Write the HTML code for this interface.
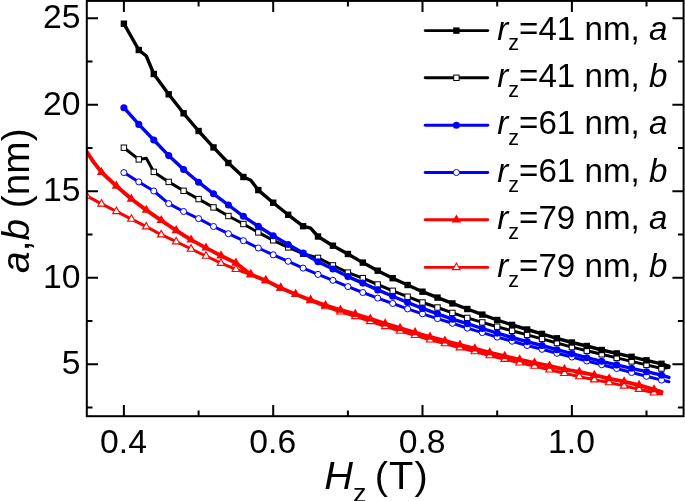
<!DOCTYPE html>
<html><head><meta charset="utf-8"><title>a,b vs Hz</title>
<style>html,body{margin:0;padding:0;background:#fff;width:685px;height:501px;overflow:hidden}</style></head>
<body>
<svg width="685" height="501" viewBox="0 0 685 501" style="display:block;position:absolute;left:0;top:0">
<rect width="685" height="501" fill="#fff"/>
<defs><clipPath id="c"><rect x="87" y="0" width="598" height="416.4"/></clipPath></defs>
<g clip-path="url(#c)">
<polyline points="123.9,147.7 138.8,159.4 146.3,158.2 153.8,171.9 168.7,181.9 183.6,190.8 198.6,199.1 213.5,207.4 228.4,216.0 243.4,224.0 258.3,232.4 273.2,240.3 288.2,247.4 303.1,253.7 318.0,257.9 332.9,265.4 347.9,272.6 362.8,278.1 377.7,284.5 392.7,290.8 407.6,296.7 422.5,302.5 437.5,307.5 452.4,312.9 467.3,317.9 482.3,322.4 497.2,326.7 512.1,330.8 527.1,334.9 542.0,338.9 556.9,343.0 571.9,347.1 586.8,350.7 601.7,354.3 616.7,357.9 631.6,361.4 646.5,364.9 661.5,368.5 668.9,367.5" fill="none" stroke="#000" stroke-width="3.0" stroke-linejoin="round" stroke-linecap="round"/>
<rect x="121.2" y="145.0" width="5.4" height="5.4" fill="#fff" stroke="#000" stroke-width="1"/>
<rect x="136.1" y="156.7" width="5.4" height="5.4" fill="#fff" stroke="#000" stroke-width="1"/>
<rect x="151.1" y="169.2" width="5.4" height="5.4" fill="#fff" stroke="#000" stroke-width="1"/>
<rect x="166.0" y="179.2" width="5.4" height="5.4" fill="#fff" stroke="#000" stroke-width="1"/>
<rect x="180.9" y="188.1" width="5.4" height="5.4" fill="#fff" stroke="#000" stroke-width="1"/>
<rect x="195.9" y="196.4" width="5.4" height="5.4" fill="#fff" stroke="#000" stroke-width="1"/>
<rect x="210.8" y="204.7" width="5.4" height="5.4" fill="#fff" stroke="#000" stroke-width="1"/>
<rect x="225.7" y="213.3" width="5.4" height="5.4" fill="#fff" stroke="#000" stroke-width="1"/>
<rect x="240.7" y="221.3" width="5.4" height="5.4" fill="#fff" stroke="#000" stroke-width="1"/>
<rect x="255.6" y="229.7" width="5.4" height="5.4" fill="#fff" stroke="#000" stroke-width="1"/>
<rect x="270.5" y="237.6" width="5.4" height="5.4" fill="#fff" stroke="#000" stroke-width="1"/>
<rect x="285.5" y="244.7" width="5.4" height="5.4" fill="#fff" stroke="#000" stroke-width="1"/>
<rect x="300.4" y="251.0" width="5.4" height="5.4" fill="#fff" stroke="#000" stroke-width="1"/>
<rect x="315.3" y="255.2" width="5.4" height="5.4" fill="#fff" stroke="#000" stroke-width="1"/>
<rect x="330.2" y="262.7" width="5.4" height="5.4" fill="#fff" stroke="#000" stroke-width="1"/>
<rect x="345.2" y="269.9" width="5.4" height="5.4" fill="#fff" stroke="#000" stroke-width="1"/>
<rect x="360.1" y="275.4" width="5.4" height="5.4" fill="#fff" stroke="#000" stroke-width="1"/>
<rect x="375.0" y="281.8" width="5.4" height="5.4" fill="#fff" stroke="#000" stroke-width="1"/>
<rect x="390.0" y="288.1" width="5.4" height="5.4" fill="#fff" stroke="#000" stroke-width="1"/>
<rect x="404.9" y="294.0" width="5.4" height="5.4" fill="#fff" stroke="#000" stroke-width="1"/>
<rect x="419.8" y="299.8" width="5.4" height="5.4" fill="#fff" stroke="#000" stroke-width="1"/>
<rect x="434.8" y="304.8" width="5.4" height="5.4" fill="#fff" stroke="#000" stroke-width="1"/>
<rect x="449.7" y="310.2" width="5.4" height="5.4" fill="#fff" stroke="#000" stroke-width="1"/>
<rect x="464.6" y="315.2" width="5.4" height="5.4" fill="#fff" stroke="#000" stroke-width="1"/>
<rect x="479.6" y="319.7" width="5.4" height="5.4" fill="#fff" stroke="#000" stroke-width="1"/>
<rect x="494.5" y="324.0" width="5.4" height="5.4" fill="#fff" stroke="#000" stroke-width="1"/>
<rect x="509.4" y="328.1" width="5.4" height="5.4" fill="#fff" stroke="#000" stroke-width="1"/>
<rect x="524.4" y="332.2" width="5.4" height="5.4" fill="#fff" stroke="#000" stroke-width="1"/>
<rect x="539.3" y="336.2" width="5.4" height="5.4" fill="#fff" stroke="#000" stroke-width="1"/>
<rect x="554.2" y="340.3" width="5.4" height="5.4" fill="#fff" stroke="#000" stroke-width="1"/>
<rect x="569.2" y="344.4" width="5.4" height="5.4" fill="#fff" stroke="#000" stroke-width="1"/>
<rect x="584.1" y="348.0" width="5.4" height="5.4" fill="#fff" stroke="#000" stroke-width="1"/>
<rect x="599.0" y="351.6" width="5.4" height="5.4" fill="#fff" stroke="#000" stroke-width="1"/>
<rect x="614.0" y="355.2" width="5.4" height="5.4" fill="#fff" stroke="#000" stroke-width="1"/>
<rect x="628.9" y="358.7" width="5.4" height="5.4" fill="#fff" stroke="#000" stroke-width="1"/>
<rect x="643.8" y="362.2" width="5.4" height="5.4" fill="#fff" stroke="#000" stroke-width="1"/>
<rect x="658.8" y="365.8" width="5.4" height="5.4" fill="#fff" stroke="#000" stroke-width="1"/>
<polyline points="123.9,23.7 138.8,50.0 146.3,56.0 153.8,74.0 168.7,94.3 183.6,113.3 198.6,131.0 213.5,147.4 228.4,163.0 243.4,177.0 250.8,180.3 258.3,190.1 273.2,202.7 288.2,214.8 303.1,226.2 310.6,228.2 318.0,236.5 332.9,245.7 347.9,254.0 362.8,262.6 377.7,270.7 392.7,278.2 407.6,285.0 422.5,291.7 437.5,297.6 452.4,303.4 467.3,309.0 482.3,314.6 497.2,320.0 512.1,324.9 527.1,329.5 542.0,333.9 556.9,338.3 571.9,342.5 586.8,346.0 601.7,350.0 616.7,353.4 631.6,356.8 646.5,360.3 661.5,363.8 668.9,366.2" fill="none" stroke="#000" stroke-width="3.4" stroke-linejoin="round" stroke-linecap="round"/>
<rect x="120.7" y="20.5" width="6.4" height="6.4" fill="#000"/>
<rect x="135.6" y="46.8" width="6.4" height="6.4" fill="#000"/>
<rect x="150.6" y="70.8" width="6.4" height="6.4" fill="#000"/>
<rect x="165.5" y="91.1" width="6.4" height="6.4" fill="#000"/>
<rect x="180.4" y="110.1" width="6.4" height="6.4" fill="#000"/>
<rect x="195.4" y="127.8" width="6.4" height="6.4" fill="#000"/>
<rect x="210.3" y="144.2" width="6.4" height="6.4" fill="#000"/>
<rect x="225.2" y="159.8" width="6.4" height="6.4" fill="#000"/>
<rect x="240.2" y="173.8" width="6.4" height="6.4" fill="#000"/>
<rect x="255.1" y="186.9" width="6.4" height="6.4" fill="#000"/>
<rect x="270.0" y="199.5" width="6.4" height="6.4" fill="#000"/>
<rect x="285.0" y="211.6" width="6.4" height="6.4" fill="#000"/>
<rect x="299.9" y="223.0" width="6.4" height="6.4" fill="#000"/>
<rect x="314.8" y="233.3" width="6.4" height="6.4" fill="#000"/>
<rect x="329.7" y="242.5" width="6.4" height="6.4" fill="#000"/>
<rect x="344.7" y="250.8" width="6.4" height="6.4" fill="#000"/>
<rect x="359.6" y="259.4" width="6.4" height="6.4" fill="#000"/>
<rect x="374.5" y="267.5" width="6.4" height="6.4" fill="#000"/>
<rect x="389.5" y="275.0" width="6.4" height="6.4" fill="#000"/>
<rect x="404.4" y="281.8" width="6.4" height="6.4" fill="#000"/>
<rect x="419.3" y="288.5" width="6.4" height="6.4" fill="#000"/>
<rect x="434.3" y="294.4" width="6.4" height="6.4" fill="#000"/>
<rect x="449.2" y="300.2" width="6.4" height="6.4" fill="#000"/>
<rect x="464.1" y="305.8" width="6.4" height="6.4" fill="#000"/>
<rect x="479.1" y="311.4" width="6.4" height="6.4" fill="#000"/>
<rect x="494.0" y="316.8" width="6.4" height="6.4" fill="#000"/>
<rect x="508.9" y="321.7" width="6.4" height="6.4" fill="#000"/>
<rect x="523.9" y="326.3" width="6.4" height="6.4" fill="#000"/>
<rect x="538.8" y="330.7" width="6.4" height="6.4" fill="#000"/>
<rect x="553.7" y="335.1" width="6.4" height="6.4" fill="#000"/>
<rect x="568.7" y="339.3" width="6.4" height="6.4" fill="#000"/>
<rect x="583.6" y="342.8" width="6.4" height="6.4" fill="#000"/>
<rect x="598.5" y="346.8" width="6.4" height="6.4" fill="#000"/>
<rect x="613.5" y="350.2" width="6.4" height="6.4" fill="#000"/>
<rect x="628.4" y="353.6" width="6.4" height="6.4" fill="#000"/>
<rect x="643.3" y="357.1" width="6.4" height="6.4" fill="#000"/>
<rect x="658.3" y="360.6" width="6.4" height="6.4" fill="#000"/>
<polyline points="123.9,172.6 138.8,181.9 153.8,191.0 168.7,203.6 183.6,211.5 198.6,218.6 213.5,226.5 228.4,233.7 243.4,240.7 258.3,248.0 273.2,254.8 288.2,261.3 303.1,268.1 318.0,274.4 332.9,280.3 347.9,286.6 362.8,292.5 377.7,298.1 392.7,303.5 407.6,308.9 422.5,313.8 437.5,318.6 452.4,323.3 467.3,328.1 482.3,332.6 497.2,337.1 512.1,341.2 527.1,345.5 542.0,349.3 556.9,353.3 571.9,357.0 586.8,361.0 601.7,364.7 616.7,368.5 631.6,372.5 646.5,376.3 661.5,380.1 668.9,381.7" fill="none" stroke="#0000ff" stroke-width="3.0" stroke-linejoin="round" stroke-linecap="round"/>
<circle cx="123.9" cy="172.6" r="3.05" fill="#fff" stroke="#0000ff" stroke-width="1"/>
<circle cx="138.8" cy="181.9" r="3.05" fill="#fff" stroke="#0000ff" stroke-width="1"/>
<circle cx="153.8" cy="191.0" r="3.05" fill="#fff" stroke="#0000ff" stroke-width="1"/>
<circle cx="168.7" cy="203.6" r="3.05" fill="#fff" stroke="#0000ff" stroke-width="1"/>
<circle cx="183.6" cy="211.5" r="3.05" fill="#fff" stroke="#0000ff" stroke-width="1"/>
<circle cx="198.6" cy="218.6" r="3.05" fill="#fff" stroke="#0000ff" stroke-width="1"/>
<circle cx="213.5" cy="226.5" r="3.05" fill="#fff" stroke="#0000ff" stroke-width="1"/>
<circle cx="228.4" cy="233.7" r="3.05" fill="#fff" stroke="#0000ff" stroke-width="1"/>
<circle cx="243.4" cy="240.7" r="3.05" fill="#fff" stroke="#0000ff" stroke-width="1"/>
<circle cx="258.3" cy="248.0" r="3.05" fill="#fff" stroke="#0000ff" stroke-width="1"/>
<circle cx="273.2" cy="254.8" r="3.05" fill="#fff" stroke="#0000ff" stroke-width="1"/>
<circle cx="288.2" cy="261.3" r="3.05" fill="#fff" stroke="#0000ff" stroke-width="1"/>
<circle cx="303.1" cy="268.1" r="3.05" fill="#fff" stroke="#0000ff" stroke-width="1"/>
<circle cx="318.0" cy="274.4" r="3.05" fill="#fff" stroke="#0000ff" stroke-width="1"/>
<circle cx="332.9" cy="280.3" r="3.05" fill="#fff" stroke="#0000ff" stroke-width="1"/>
<circle cx="347.9" cy="286.6" r="3.05" fill="#fff" stroke="#0000ff" stroke-width="1"/>
<circle cx="362.8" cy="292.5" r="3.05" fill="#fff" stroke="#0000ff" stroke-width="1"/>
<circle cx="377.7" cy="298.1" r="3.05" fill="#fff" stroke="#0000ff" stroke-width="1"/>
<circle cx="392.7" cy="303.5" r="3.05" fill="#fff" stroke="#0000ff" stroke-width="1"/>
<circle cx="407.6" cy="308.9" r="3.05" fill="#fff" stroke="#0000ff" stroke-width="1"/>
<circle cx="422.5" cy="313.8" r="3.05" fill="#fff" stroke="#0000ff" stroke-width="1"/>
<circle cx="437.5" cy="318.6" r="3.05" fill="#fff" stroke="#0000ff" stroke-width="1"/>
<circle cx="452.4" cy="323.3" r="3.05" fill="#fff" stroke="#0000ff" stroke-width="1"/>
<circle cx="467.3" cy="328.1" r="3.05" fill="#fff" stroke="#0000ff" stroke-width="1"/>
<circle cx="482.3" cy="332.6" r="3.05" fill="#fff" stroke="#0000ff" stroke-width="1"/>
<circle cx="497.2" cy="337.1" r="3.05" fill="#fff" stroke="#0000ff" stroke-width="1"/>
<circle cx="512.1" cy="341.2" r="3.05" fill="#fff" stroke="#0000ff" stroke-width="1"/>
<circle cx="527.1" cy="345.5" r="3.05" fill="#fff" stroke="#0000ff" stroke-width="1"/>
<circle cx="542.0" cy="349.3" r="3.05" fill="#fff" stroke="#0000ff" stroke-width="1"/>
<circle cx="556.9" cy="353.3" r="3.05" fill="#fff" stroke="#0000ff" stroke-width="1"/>
<circle cx="571.9" cy="357.0" r="3.05" fill="#fff" stroke="#0000ff" stroke-width="1"/>
<circle cx="586.8" cy="361.0" r="3.05" fill="#fff" stroke="#0000ff" stroke-width="1"/>
<circle cx="601.7" cy="364.7" r="3.05" fill="#fff" stroke="#0000ff" stroke-width="1"/>
<circle cx="616.7" cy="368.5" r="3.05" fill="#fff" stroke="#0000ff" stroke-width="1"/>
<circle cx="631.6" cy="372.5" r="3.05" fill="#fff" stroke="#0000ff" stroke-width="1"/>
<circle cx="646.5" cy="376.3" r="3.05" fill="#fff" stroke="#0000ff" stroke-width="1"/>
<circle cx="661.5" cy="380.1" r="3.05" fill="#fff" stroke="#0000ff" stroke-width="1"/>
<polyline points="123.9,107.7 138.8,124.4 153.8,140.0 168.7,155.6 183.6,169.5 198.6,182.2 213.5,193.8 228.4,205.0 243.4,216.3 258.3,226.3 273.2,235.7 288.2,244.5 303.1,253.0 318.0,261.8 332.9,269.0 347.9,276.6 362.8,283.1 377.7,289.9 392.7,296.3 407.6,302.5 422.5,308.4 437.5,313.8 452.4,319.2 467.3,323.6 482.3,328.5 497.2,333.1 512.1,337.5 527.1,341.6 542.0,345.5 556.9,349.7 571.9,353.6 586.8,357.7 601.7,361.3 616.7,364.9 631.6,368.3 646.5,371.7 661.5,375.1 668.9,377.4" fill="none" stroke="#0000ff" stroke-width="3.4" stroke-linejoin="round" stroke-linecap="round"/>
<circle cx="123.9" cy="107.7" r="3.55" fill="#0000ff"/>
<circle cx="138.8" cy="124.4" r="3.55" fill="#0000ff"/>
<circle cx="153.8" cy="140.0" r="3.55" fill="#0000ff"/>
<circle cx="168.7" cy="155.6" r="3.55" fill="#0000ff"/>
<circle cx="183.6" cy="169.5" r="3.55" fill="#0000ff"/>
<circle cx="198.6" cy="182.2" r="3.55" fill="#0000ff"/>
<circle cx="213.5" cy="193.8" r="3.55" fill="#0000ff"/>
<circle cx="228.4" cy="205.0" r="3.55" fill="#0000ff"/>
<circle cx="243.4" cy="216.3" r="3.55" fill="#0000ff"/>
<circle cx="258.3" cy="226.3" r="3.55" fill="#0000ff"/>
<circle cx="273.2" cy="235.7" r="3.55" fill="#0000ff"/>
<circle cx="288.2" cy="244.5" r="3.55" fill="#0000ff"/>
<circle cx="303.1" cy="253.0" r="3.55" fill="#0000ff"/>
<circle cx="318.0" cy="261.8" r="3.55" fill="#0000ff"/>
<circle cx="332.9" cy="269.0" r="3.55" fill="#0000ff"/>
<circle cx="347.9" cy="276.6" r="3.55" fill="#0000ff"/>
<circle cx="362.8" cy="283.1" r="3.55" fill="#0000ff"/>
<circle cx="377.7" cy="289.9" r="3.55" fill="#0000ff"/>
<circle cx="392.7" cy="296.3" r="3.55" fill="#0000ff"/>
<circle cx="407.6" cy="302.5" r="3.55" fill="#0000ff"/>
<circle cx="422.5" cy="308.4" r="3.55" fill="#0000ff"/>
<circle cx="437.5" cy="313.8" r="3.55" fill="#0000ff"/>
<circle cx="452.4" cy="319.2" r="3.55" fill="#0000ff"/>
<circle cx="467.3" cy="323.6" r="3.55" fill="#0000ff"/>
<circle cx="482.3" cy="328.5" r="3.55" fill="#0000ff"/>
<circle cx="497.2" cy="333.1" r="3.55" fill="#0000ff"/>
<circle cx="512.1" cy="337.5" r="3.55" fill="#0000ff"/>
<circle cx="527.1" cy="341.6" r="3.55" fill="#0000ff"/>
<circle cx="542.0" cy="345.5" r="3.55" fill="#0000ff"/>
<circle cx="556.9" cy="349.7" r="3.55" fill="#0000ff"/>
<circle cx="571.9" cy="353.6" r="3.55" fill="#0000ff"/>
<circle cx="586.8" cy="357.7" r="3.55" fill="#0000ff"/>
<circle cx="601.7" cy="361.3" r="3.55" fill="#0000ff"/>
<circle cx="616.7" cy="364.9" r="3.55" fill="#0000ff"/>
<circle cx="631.6" cy="368.3" r="3.55" fill="#0000ff"/>
<circle cx="646.5" cy="371.7" r="3.55" fill="#0000ff"/>
<circle cx="661.5" cy="375.1" r="3.55" fill="#0000ff"/>
<polyline points="86.6,195.8 101.5,203.9 116.4,211.4 131.4,219.1 146.3,226.7 161.2,234.7 176.2,241.7 191.1,249.0 206.0,256.0 221.0,263.2 235.9,269.3 250.8,274.5 265.8,280.5 280.7,288.0 295.6,294.3 310.6,300.5 325.5,306.6 340.4,311.8 355.3,316.4 370.3,321.4 385.2,326.4 400.1,331.0 415.1,335.3 430.0,339.8 444.9,343.6 459.9,347.7 474.8,351.5 489.7,355.6 504.7,359.2 519.6,362.8 534.5,366.1 549.5,369.8 564.4,373.3 579.3,376.6 594.3,379.7 609.2,382.6 624.1,385.9 639.1,389.2 654.0,392.8 661.5,394.0" fill="none" stroke="#ff0000" stroke-width="3.0" stroke-linejoin="round" stroke-linecap="round"/>
<polygon points="86.6,191.5 90.3,198.0 82.8,198.0" fill="#fff" stroke="#ff0000" stroke-width="1.1" stroke-linejoin="miter"/>
<polygon points="101.5,199.6 105.3,206.1 97.8,206.1" fill="#fff" stroke="#ff0000" stroke-width="1.1" stroke-linejoin="miter"/>
<polygon points="116.4,207.1 120.2,213.6 112.7,213.6" fill="#fff" stroke="#ff0000" stroke-width="1.1" stroke-linejoin="miter"/>
<polygon points="131.4,214.8 135.1,221.3 127.6,221.3" fill="#fff" stroke="#ff0000" stroke-width="1.1" stroke-linejoin="miter"/>
<polygon points="146.3,222.4 150.0,228.9 142.5,228.9" fill="#fff" stroke="#ff0000" stroke-width="1.1" stroke-linejoin="miter"/>
<polygon points="161.2,230.4 165.0,236.9 157.5,236.9" fill="#fff" stroke="#ff0000" stroke-width="1.1" stroke-linejoin="miter"/>
<polygon points="176.2,237.4 179.9,243.9 172.4,243.9" fill="#fff" stroke="#ff0000" stroke-width="1.1" stroke-linejoin="miter"/>
<polygon points="191.1,244.7 194.8,251.2 187.3,251.2" fill="#fff" stroke="#ff0000" stroke-width="1.1" stroke-linejoin="miter"/>
<polygon points="206.0,251.7 209.8,258.2 202.3,258.2" fill="#fff" stroke="#ff0000" stroke-width="1.1" stroke-linejoin="miter"/>
<polygon points="221.0,258.9 224.7,265.4 217.2,265.4" fill="#fff" stroke="#ff0000" stroke-width="1.1" stroke-linejoin="miter"/>
<polygon points="235.9,265.0 239.6,271.5 232.1,271.5" fill="#fff" stroke="#ff0000" stroke-width="1.1" stroke-linejoin="miter"/>
<polygon points="250.8,270.2 254.6,276.7 247.1,276.7" fill="#fff" stroke="#ff0000" stroke-width="1.1" stroke-linejoin="miter"/>
<polygon points="265.8,276.2 269.5,282.7 262.0,282.7" fill="#fff" stroke="#ff0000" stroke-width="1.1" stroke-linejoin="miter"/>
<polygon points="280.7,283.7 284.4,290.2 276.9,290.2" fill="#fff" stroke="#ff0000" stroke-width="1.1" stroke-linejoin="miter"/>
<polygon points="295.6,290.0 299.4,296.5 291.9,296.5" fill="#fff" stroke="#ff0000" stroke-width="1.1" stroke-linejoin="miter"/>
<polygon points="310.6,296.2 314.3,302.7 306.8,302.7" fill="#fff" stroke="#ff0000" stroke-width="1.1" stroke-linejoin="miter"/>
<polygon points="325.5,302.3 329.2,308.8 321.7,308.8" fill="#fff" stroke="#ff0000" stroke-width="1.1" stroke-linejoin="miter"/>
<polygon points="340.4,307.5 344.2,314.0 336.7,314.0" fill="#fff" stroke="#ff0000" stroke-width="1.1" stroke-linejoin="miter"/>
<polygon points="355.3,312.1 359.1,318.6 351.6,318.6" fill="#fff" stroke="#ff0000" stroke-width="1.1" stroke-linejoin="miter"/>
<polygon points="370.3,317.1 374.0,323.6 366.5,323.6" fill="#fff" stroke="#ff0000" stroke-width="1.1" stroke-linejoin="miter"/>
<polygon points="385.2,322.1 389.0,328.6 381.5,328.6" fill="#fff" stroke="#ff0000" stroke-width="1.1" stroke-linejoin="miter"/>
<polygon points="400.1,326.7 403.9,333.2 396.4,333.2" fill="#fff" stroke="#ff0000" stroke-width="1.1" stroke-linejoin="miter"/>
<polygon points="415.1,331.0 418.8,337.5 411.3,337.5" fill="#fff" stroke="#ff0000" stroke-width="1.1" stroke-linejoin="miter"/>
<polygon points="430.0,335.5 433.8,342.0 426.3,342.0" fill="#fff" stroke="#ff0000" stroke-width="1.1" stroke-linejoin="miter"/>
<polygon points="444.9,339.3 448.7,345.8 441.2,345.8" fill="#fff" stroke="#ff0000" stroke-width="1.1" stroke-linejoin="miter"/>
<polygon points="459.9,343.4 463.6,349.9 456.1,349.9" fill="#fff" stroke="#ff0000" stroke-width="1.1" stroke-linejoin="miter"/>
<polygon points="474.8,347.2 478.6,353.7 471.1,353.7" fill="#fff" stroke="#ff0000" stroke-width="1.1" stroke-linejoin="miter"/>
<polygon points="489.7,351.3 493.5,357.8 486.0,357.8" fill="#fff" stroke="#ff0000" stroke-width="1.1" stroke-linejoin="miter"/>
<polygon points="504.7,354.9 508.4,361.4 500.9,361.4" fill="#fff" stroke="#ff0000" stroke-width="1.1" stroke-linejoin="miter"/>
<polygon points="519.6,358.5 523.3,365.0 515.8,365.0" fill="#fff" stroke="#ff0000" stroke-width="1.1" stroke-linejoin="miter"/>
<polygon points="534.5,361.8 538.3,368.3 530.8,368.3" fill="#fff" stroke="#ff0000" stroke-width="1.1" stroke-linejoin="miter"/>
<polygon points="549.5,365.5 553.2,372.0 545.7,372.0" fill="#fff" stroke="#ff0000" stroke-width="1.1" stroke-linejoin="miter"/>
<polygon points="564.4,369.0 568.1,375.5 560.6,375.5" fill="#fff" stroke="#ff0000" stroke-width="1.1" stroke-linejoin="miter"/>
<polygon points="579.3,372.3 583.1,378.8 575.6,378.8" fill="#fff" stroke="#ff0000" stroke-width="1.1" stroke-linejoin="miter"/>
<polygon points="594.3,375.4 598.0,381.9 590.5,381.9" fill="#fff" stroke="#ff0000" stroke-width="1.1" stroke-linejoin="miter"/>
<polygon points="609.2,378.3 612.9,384.8 605.4,384.8" fill="#fff" stroke="#ff0000" stroke-width="1.1" stroke-linejoin="miter"/>
<polygon points="624.1,381.6 627.9,388.1 620.4,388.1" fill="#fff" stroke="#ff0000" stroke-width="1.1" stroke-linejoin="miter"/>
<polygon points="639.1,384.9 642.8,391.4 635.3,391.4" fill="#fff" stroke="#ff0000" stroke-width="1.1" stroke-linejoin="miter"/>
<polygon points="654.0,388.5 657.7,395.0 650.2,395.0" fill="#fff" stroke="#ff0000" stroke-width="1.1" stroke-linejoin="miter"/>
<polyline points="86.6,151.6 94.0,162.6 101.5,172.3 116.4,186.0 131.4,199.0 146.3,210.1 161.2,220.3 176.2,230.5 191.1,239.9 206.0,247.9 221.0,255.7 235.9,263.0 250.8,274.5 265.8,280.5 280.7,288.0 295.6,294.3 310.6,300.0 325.5,305.4 340.4,310.0 355.3,314.2 370.3,318.9 385.2,323.7 400.1,328.2 415.1,332.5 430.0,337.0 444.9,340.8 459.9,344.9 474.8,348.7 489.7,352.6 504.7,356.2 519.6,359.6 534.5,362.8 549.5,366.0 564.4,369.3 579.3,371.8 594.3,375.2 609.2,378.6 624.1,381.6 639.1,385.2 654.0,389.6 661.5,391.8" fill="none" stroke="#ff0000" stroke-width="3.9" stroke-linejoin="round" stroke-linecap="round"/>
<polygon points="101.5,166.9 106.2,175.0 96.8,175.0" fill="#ff0000"/>
<polygon points="116.4,180.6 121.1,188.7 111.7,188.7" fill="#ff0000"/>
<polygon points="131.4,193.6 136.1,201.7 126.7,201.7" fill="#ff0000"/>
<polygon points="146.3,204.7 151.0,212.8 141.6,212.8" fill="#ff0000"/>
<polygon points="161.2,214.9 165.9,223.0 156.5,223.0" fill="#ff0000"/>
<polygon points="176.2,225.1 180.9,233.2 171.5,233.2" fill="#ff0000"/>
<polygon points="191.1,234.5 195.8,242.6 186.4,242.6" fill="#ff0000"/>
<polygon points="206.0,242.5 210.7,250.6 201.3,250.6" fill="#ff0000"/>
<polygon points="221.0,250.3 225.7,258.4 216.3,258.4" fill="#ff0000"/>
<polygon points="235.9,257.6 240.6,265.7 231.2,265.7" fill="#ff0000"/>
<polygon points="250.8,269.1 255.5,277.2 246.1,277.2" fill="#ff0000"/>
<polygon points="265.8,275.1 270.5,283.2 261.1,283.2" fill="#ff0000"/>
<polygon points="280.7,282.6 285.4,290.7 276.0,290.7" fill="#ff0000"/>
<polygon points="295.6,288.9 300.3,297.0 290.9,297.0" fill="#ff0000"/>
<polygon points="310.6,294.6 315.2,302.7 305.9,302.7" fill="#ff0000"/>
<polygon points="325.5,300.0 330.2,308.1 320.8,308.1" fill="#ff0000"/>
<polygon points="340.4,304.6 345.1,312.7 335.7,312.7" fill="#ff0000"/>
<polygon points="355.3,308.8 360.0,316.9 350.6,316.9" fill="#ff0000"/>
<polygon points="370.3,313.5 375.0,321.6 365.6,321.6" fill="#ff0000"/>
<polygon points="385.2,318.3 389.9,326.4 380.5,326.4" fill="#ff0000"/>
<polygon points="400.1,322.8 404.8,330.9 395.4,330.9" fill="#ff0000"/>
<polygon points="415.1,327.1 419.8,335.2 410.4,335.2" fill="#ff0000"/>
<polygon points="430.0,331.6 434.7,339.7 425.3,339.7" fill="#ff0000"/>
<polygon points="444.9,335.4 449.6,343.5 440.2,343.5" fill="#ff0000"/>
<polygon points="459.9,339.5 464.6,347.6 455.2,347.6" fill="#ff0000"/>
<polygon points="474.8,343.3 479.5,351.4 470.1,351.4" fill="#ff0000"/>
<polygon points="489.7,347.2 494.4,355.3 485.0,355.3" fill="#ff0000"/>
<polygon points="504.7,350.8 509.4,358.9 500.0,358.9" fill="#ff0000"/>
<polygon points="519.6,354.2 524.3,362.3 514.9,362.3" fill="#ff0000"/>
<polygon points="534.5,357.4 539.2,365.5 529.8,365.5" fill="#ff0000"/>
<polygon points="549.5,360.6 554.2,368.7 544.8,368.7" fill="#ff0000"/>
<polygon points="564.4,363.9 569.1,372.0 559.7,372.0" fill="#ff0000"/>
<polygon points="579.3,366.4 584.0,374.5 574.6,374.5" fill="#ff0000"/>
<polygon points="594.3,369.8 599.0,377.9 589.6,377.9" fill="#ff0000"/>
<polygon points="609.2,373.2 613.9,381.3 604.5,381.3" fill="#ff0000"/>
<polygon points="624.1,376.2 628.8,384.3 619.4,384.3" fill="#ff0000"/>
<polygon points="639.1,379.8 643.8,387.9 634.4,387.9" fill="#ff0000"/>
<polygon points="654.0,384.2 658.7,392.3 649.3,392.3" fill="#ff0000"/>
</g>
<g stroke="#000" stroke-width="2" fill="none" stroke-linecap="butt">
<rect x="86.8" y="0.9" width="596.8000000000001" height="415.3"/>
<path d="M123.9 416.2V405.0M123.9 0.9V12.1"/>
<path d="M198.6 416.2V410.5M198.6 0.9V6.6"/>
<path d="M273.2 416.2V405.0M273.2 0.9V12.1"/>
<path d="M347.9 416.2V410.5M347.9 0.9V6.6"/>
<path d="M422.5 416.2V405.0M422.5 0.9V12.1"/>
<path d="M497.2 416.2V410.5M497.2 0.9V6.6"/>
<path d="M571.9 416.2V405.0M571.9 0.9V12.1"/>
<path d="M646.5 416.2V410.5M646.5 0.9V6.6"/>
<path d="M86.8 407.4H92.5M683.6 407.4H677.9"/>
<path d="M86.8 364.2H98.0M683.6 364.2H672.4"/>
<path d="M86.8 320.9H92.5M683.6 320.9H677.9"/>
<path d="M86.8 277.7H98.0M683.6 277.7H672.4"/>
<path d="M86.8 234.4H92.5M683.6 234.4H677.9"/>
<path d="M86.8 191.2H98.0M683.6 191.2H672.4"/>
<path d="M86.8 147.9H92.5M683.6 147.9H677.9"/>
<path d="M86.8 104.7H98.0M683.6 104.7H672.4"/>
<path d="M86.8 61.5H92.5M683.6 61.5H677.9"/>
<path d="M86.8 18.2H98.0M683.6 18.2H672.4"/>
</g>
<g font-family="Liberation Sans, sans-serif" font-size="33.4" fill="#000">
<text transform="translate(80.6,374.0) scale(1.01,1)" text-anchor="end">5</text>
<text transform="translate(80.6,287.5) scale(1.01,1)" text-anchor="end">10</text>
<text transform="translate(80.6,201.0) scale(1.01,1)" text-anchor="end">15</text>
<text transform="translate(80.6,114.5) scale(1.01,1)" text-anchor="end">20</text>
<text transform="translate(80.6,28.0) scale(1.01,1)" text-anchor="end">25</text>
<text transform="translate(123.5,452.6) scale(1.01,1)" text-anchor="middle">0.4</text>
<text transform="translate(272.8,452.6) scale(1.01,1)" text-anchor="middle">0.6</text>
<text transform="translate(422.1,452.6) scale(1.01,1)" text-anchor="middle">0.8</text>
<text transform="translate(571.5,452.6) scale(1.01,1)" text-anchor="middle">1.0</text>
</g>
<text font-family="Liberation Sans, sans-serif" font-size="38.5" transform="translate(324.3,489.4) scale(1.034,1)"><tspan font-style="italic">H</tspan><tspan font-size="26" dy="12.8">z</tspan><tspan dy="-12.8" dx="-3.9" letter-spacing="1.1"> (T)</tspan></text>
<text font-family="Liberation Sans, sans-serif" font-size="39" transform="translate(29.2,272.9) rotate(-90) scale(0.995,1)"><tspan font-style="italic">a</tspan>,<tspan font-style="italic">b</tspan> (nm)</text>
<line x1="425.2" y1="30.6" x2="487.8" y2="30.6" stroke="#000" stroke-width="2.9" stroke-linecap="round"/>
<rect x="453.2" y="27.4" width="6.4" height="6.4" fill="#000"/>
<text font-family="Liberation Sans, sans-serif" font-size="33.4" transform="translate(497.3,39.8) scale(0.992,1)"><tspan font-style="italic">r</tspan><tspan font-size="21.7" dy="10.2">z</tspan><tspan dy="-10.2">=41 nm, </tspan><tspan font-style="italic">a</tspan></text>
<line x1="425.2" y1="77.8" x2="487.8" y2="77.8" stroke="#000" stroke-width="2.9" stroke-linecap="round"/>
<rect x="453.7" y="75.1" width="5.4" height="5.4" fill="#fff" stroke="#000" stroke-width="1"/>
<text font-family="Liberation Sans, sans-serif" font-size="33.4" transform="translate(497.3,87.0) scale(0.992,1)"><tspan font-style="italic">r</tspan><tspan font-size="21.7" dy="10.2">z</tspan><tspan dy="-10.2">=41 nm, </tspan><tspan font-style="italic">b</tspan></text>
<line x1="425.2" y1="125.2" x2="487.8" y2="125.2" stroke="#0000ff" stroke-width="2.9" stroke-linecap="round"/>
<circle cx="456.4" cy="125.2" r="3.55" fill="#0000ff"/>
<text font-family="Liberation Sans, sans-serif" font-size="33.4" transform="translate(497.3,134.4) scale(0.992,1)"><tspan font-style="italic">r</tspan><tspan font-size="21.7" dy="10.2">z</tspan><tspan dy="-10.2">=61 nm, </tspan><tspan font-style="italic">a</tspan></text>
<line x1="425.2" y1="172.5" x2="487.8" y2="172.5" stroke="#0000ff" stroke-width="2.9" stroke-linecap="round"/>
<circle cx="456.4" cy="172.5" r="3.05" fill="#fff" stroke="#0000ff" stroke-width="1"/>
<text font-family="Liberation Sans, sans-serif" font-size="33.4" transform="translate(497.3,181.7) scale(0.992,1)"><tspan font-style="italic">r</tspan><tspan font-size="21.7" dy="10.2">z</tspan><tspan dy="-10.2">=61 nm, </tspan><tspan font-style="italic">b</tspan></text>
<line x1="425.2" y1="219.8" x2="487.8" y2="219.8" stroke="#ff0000" stroke-width="2.9" stroke-linecap="round"/>
<polygon points="456.4,214.4 461.1,222.5 451.7,222.5" fill="#ff0000"/>
<text font-family="Liberation Sans, sans-serif" font-size="33.4" transform="translate(497.3,229.0) scale(0.992,1)"><tspan font-style="italic">r</tspan><tspan font-size="21.7" dy="10.2">z</tspan><tspan dy="-10.2">=79 nm, </tspan><tspan font-style="italic">a</tspan></text>
<line x1="425.2" y1="267.4" x2="487.8" y2="267.4" stroke="#ff0000" stroke-width="2.9" stroke-linecap="round"/>
<polygon points="456.4,263.1 460.1,269.6 452.6,269.6" fill="#fff" stroke="#ff0000" stroke-width="1.1" stroke-linejoin="miter"/>
<text font-family="Liberation Sans, sans-serif" font-size="33.4" transform="translate(497.3,276.6) scale(0.992,1)"><tspan font-style="italic">r</tspan><tspan font-size="21.7" dy="10.2">z</tspan><tspan dy="-10.2">=79 nm, </tspan><tspan font-style="italic">b</tspan></text>
</svg>
</body></html>
